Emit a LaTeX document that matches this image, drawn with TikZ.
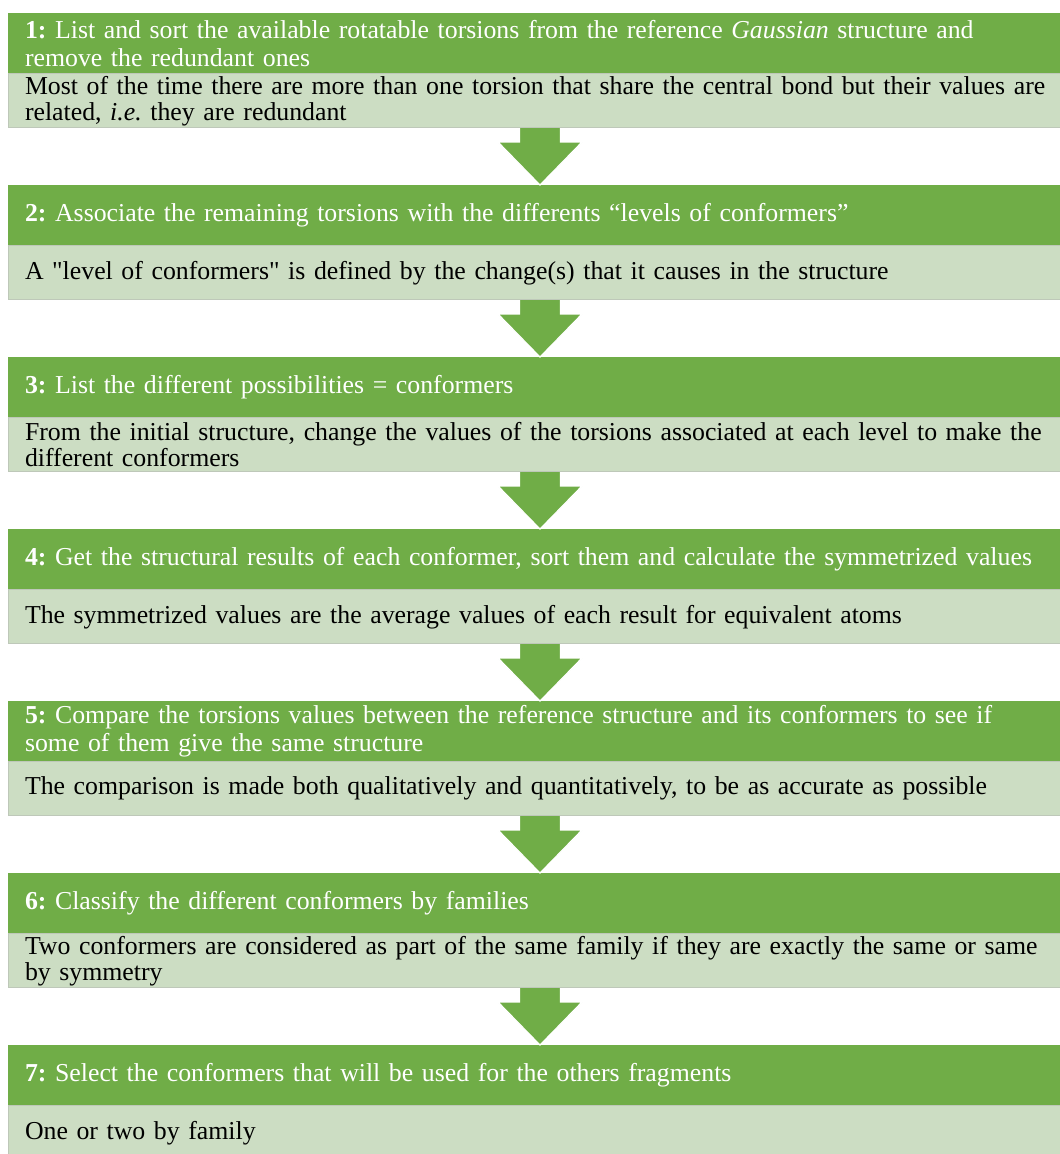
\documentclass[tikz,border=0pt]{standalone}
\usepackage{fontspec}
\setmainfont{Liberation Serif}[Ligatures=TeXOff]
\usetikzlibrary{positioning}
\definecolor{headgreen}{RGB}{112,173,71}
\definecolor{bodygreen}{RGB}{204,221,195}
\definecolor{bodyline}{RGB}{190,200,185}
\tikzset{
  head/.style={fill=headgreen, text=white, minimum height=60pt, text width=1040pt,
    inner xsep=17pt, inner ysep=1pt, align=left, font=\fontsize{25.8}{28}\selectfont\frenchspacing},
  body/.style={fill=bodygreen, draw=bodyline, line width=0.6pt, text=black, minimum height=54pt,
    text width=1040pt, inner xsep=17pt, inner ysep=1pt, align=left, font=\fontsize{25.8}{26}\selectfont\frenchspacing},
  flowarrow/.style={fill=headgreen, draw=white, line width=1.2pt, line join=miter}
}
\begin{document}
\begin{tikzpicture}[x=1pt, y=1pt]
    \useasboundingbox (0,0) rectangle (1060,-1154);

    % step 1
    \node[head, anchor=north] (h1) at (545,-13) {\textbf{1:} List and sort the available rotatable torsions from the reference \textit{Gaussian} structure and\\remove the redundant ones};
    \node[body, below=0pt of h1] (b1) {Most of the time there are more than one torsion that share the central bond but their values are\\related, \textit{i.e.} they are redundant};

    % step 2
    \node[head, below=57pt of b1] (h2) {\textbf{2:} Associate the remaining torsions with the differents “levels of conformers”};
    \node[body, below=0pt of h2] (b2) {A "level of conformers" is defined by the change(s) that it causes in the structure};

    % step 3
    \node[head, below=57pt of b2] (h3) {\textbf{3:} List the different possibilities = conformers};
    \node[body, below=0pt of h3] (b3) {From the initial structure, change the values of the torsions associated at each level to make the\\different conformers};

    % step 4
    \node[head, below=57pt of b3] (h4) {\textbf{4:} Get the structural results of each conformer, sort them and calculate the symmetrized values};
    \node[body, below=0pt of h4] (b4) {The symmetrized values are the average values of each result for equivalent atoms};

    % step 5
    \node[head, below=57pt of b4] (h5) {\textbf{5:} Compare the torsions values between the reference structure and its conformers to see if\\some of them give the same structure};
    \node[body, below=0pt of h5] (b5) {The comparison is made both qualitatively and quantitatively, to be as accurate as possible};

    % step 6
    \node[head, below=57pt of b5] (h6) {\textbf{6:} Classify the different conformers by families};
    \node[body, below=0pt of h6] (b6) {Two conformers are considered as part of the same family if they are exactly the same or same\\by symmetry};

    % step 7
    \node[head, below=57pt of b6] (h7) {\textbf{7:} Select the conformers that will be used for the others fragments};
    \node[body, below=0pt of h7] (b7) {One or two by family};

    % arrows (centred 5pt left of the box centre)
    \foreach \i/\j in {1/2,2/3,3/4,4/5,5/6,6/7}
      \filldraw[flowarrow] ([xshift=-25.5pt]b\i.south) -- ([xshift=-25.5pt,yshift=-14pt]b\i.south)
        -- ([xshift=-47pt,yshift=-14pt]b\i.south) -- ([xshift=-5pt]h\j.north)
        -- ([xshift=37pt,yshift=-14pt]b\i.south) -- ([xshift=15.5pt,yshift=-14pt]b\i.south)
        -- ([xshift=15.5pt]b\i.south);
\end{tikzpicture}
\end{document}
